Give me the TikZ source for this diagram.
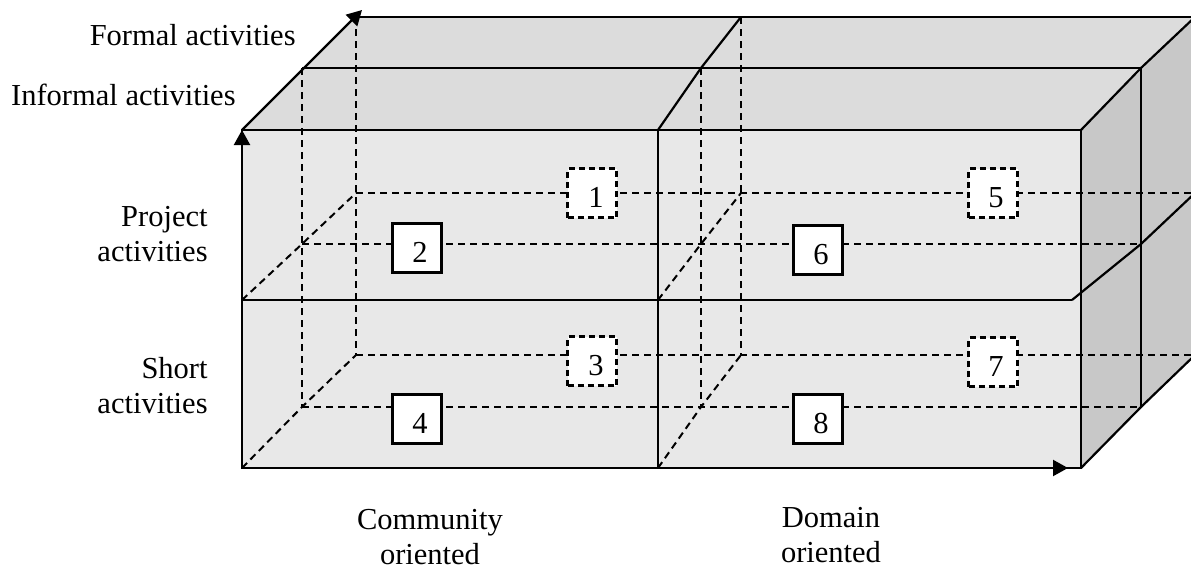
\documentclass[tikz,border=0pt]{standalone}
\usepackage{fontspec}
\setmainfont{Liberation Serif}
\usetikzlibrary{arrows.meta}
\begin{document}
\begin{tikzpicture}[x=0.5pt,y=-0.5pt,
  edge/.style={line width=1.1pt},
  hid/.style={line width=1pt, dash pattern=on 3.6pt off 2.4pt},
  axis/.style={line width=1.1pt, -{Triangle[length=7.5pt,width=8pt]}},
  lab/.style={font=\fontsize{15.25}{17.5}\selectfont, inner sep=0pt},
  cellbox/.style={draw, fill=white, line width=1.1pt, minimum width=24.5pt, minimum height=24.5pt,
     inner sep=0pt, text height=14.3pt, text depth=0pt, font=\fontsize{15.25}{17.5}\selectfont},
  hidbox/.style={cellbox, dash pattern=on 3pt off 2pt},
  topface/.style={fill={rgb,255:red,220;green,220;blue,220}},
  sideface/.style={fill={rgb,255:red,200;green,200;blue,200}},
  frontface/.style={fill={rgb,255:red,232;green,232;blue,232}}]
\useasboundingbox (0,0) rectangle (1191,568);
\clip (0,0) rectangle (1191,568);
% front plane
\coordinate (F1) at (242,130);
\coordinate (F2) at (1081,130);
\coordinate (F3) at (1081,468);
\coordinate (F4) at (242,468);
\coordinate (FM1) at (242,300);
\coordinate (FM2) at (1072,300);
\coordinate (FD1) at (658,130);
\coordinate (FD2) at (658,468);
\coordinate (FDm) at (658,300);
% informal plane
\coordinate (I1) at (302,68);
\coordinate (I2) at (1141,68);
\coordinate (I3) at (1141,407);
\coordinate (I4) at (302,407);
\coordinate (IM1) at (302,244);
\coordinate (IM2) at (1141,244);
\coordinate (ID1) at (701,68);
\coordinate (ID2) at (701,407);
\coordinate (IDm) at (701,244);
% formal plane
\coordinate (B1) at (356,17);
\coordinate (B2) at (1195,17);
\coordinate (B3) at (1195,355);
\coordinate (B4) at (356,355);
\coordinate (BM1) at (356,193);
\coordinate (BM2) at (1195,193);
\coordinate (BD1) at (741,17);
\coordinate (BD2) at (741,355);
\coordinate (BDm) at (741,193);
% arrow tips
\coordinate (Ztip) at (362,10);
\coordinate (Xtip) at (1068,468);
% faces
\fill[topface] (F1) -- (B1) -- (B2) -- (F2) -- cycle;
\fill[sideface] (F2) -- (B2) -- (B3) -- (F3) -- cycle;
\fill[frontface] (F1) rectangle (F3);
% solid edges
\draw[edge] (F1) rectangle (F3);
\draw[edge] (FM1) -- (FM2);
\draw[edge] (FD1) -- (FD2);
\draw[edge] (I1) -- (I2);
\draw[edge] (B1) -- (B2);
\draw[edge] (FD1) -- (ID1) -- (BD1);
\draw[edge] (F2) -- (I2) -- (B2);
\draw[edge] (F3) -- (I3) -- (B3);
\draw[edge] (FM2) -- (IM2) -- (BM2);
\draw[edge] (I2) -- (I3);
% axes
\draw[axis] (F4) -- (F1);
\draw[axis] (F1) -- (Ztip);
\draw[axis] (F4) -- (Xtip);
% hidden lines
\draw[hid] (I1) -- (I4);
\draw[hid] (B1) -- (B4);
\draw[hid] (ID1) -- (ID2);
\draw[hid] (BD1) -- (BD2);
\draw[hid] (F4) -- (I4) -- (B4);
\draw[hid] (FM1) -- (IM1) -- (BM1);
\draw[hid] (FD2) -- (ID2) -- (BD2);
\draw[hid] (FDm) -- (IDm) -- (BDm);
\draw[hid] (BM1) -- (BM2);
\draw[hid] (IM1) -- (IM2);
\draw[hid] (B4) -- (B3);
\draw[hid] (I4) -- (I3);
% cells
\node[hidbox] (c1) at (592,193) {\hspace*{4pt}1};
\node[cellbox] (c2) at (417,248) {\hspace*{3pt}2};
\node[hidbox] (c3) at (592,361) {\hspace*{4pt}3};
\node[cellbox] (c4) at (417,419) {\hspace*{3pt}4};
\node[hidbox] (c5) at (993,193) {\hspace*{3pt}5};
\node[cellbox] (c6) at (818,250) {\hspace*{3pt}6};
\node[hidbox] (c7) at (993,362) {\hspace*{3pt}7};
\node[cellbox] (c8) at (818,419) {\hspace*{3pt}8};
% labels
\node[lab, anchor=base east] (formal) at (296,45) {Formal activities};
\node[lab, anchor=base east] (informal) at (236,105) {Informal activities};
\node[lab, align=right, anchor=north east] (project) at (208,206) {Project\\activities};
\node[lab, align=right, anchor=north east] (short) at (208,357) {Short\\activities};
\node[lab, align=center, anchor=north] (comm) at (430,509) {Community\\oriented};
\node[lab, align=center, anchor=north] (domain) at (831,507) {Domain\\oriented};
\end{tikzpicture}
\end{document}
